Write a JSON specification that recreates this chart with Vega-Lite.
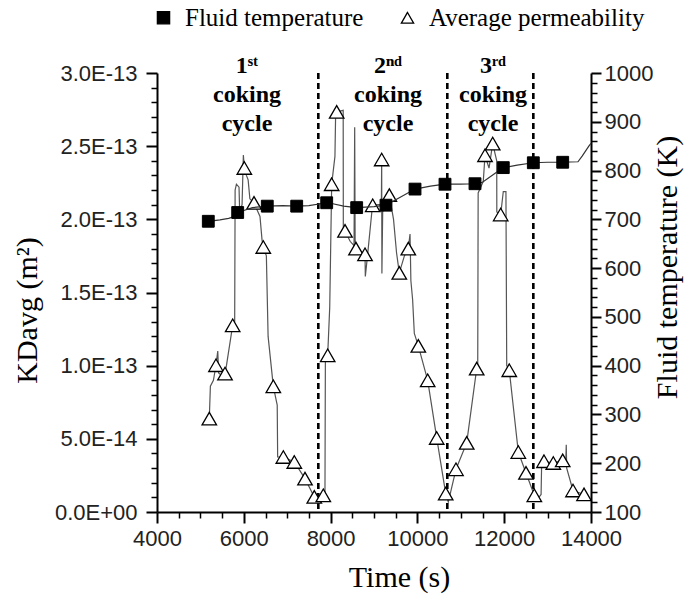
{
  "$schema": "https://vega.github.io/schema/vega-lite/v6.json",
  "width": 434,
  "height": 439,
  "autosize": "none",
  "padding": {"left": 157, "top": 73, "right": 99, "bottom": 89},
  "background": "white",
  "config": {
    "view": {"stroke": null},
    "axis": {
      "labelFont": "Liberation Sans", "labelFontSize": 22, "labelColor": "#222", "labelOverlap": false, "labelFlush": false,
      "titleFont": "Liberation Serif", "titleFontSize": 30, "titleFontWeight": "normal", "titleColor": "black",
      "domainColor": "black", "domainWidth": 2, "ticks": true, "tickColor": "black", "tickOpacity": 1, "grid": false
    },
    "legend": {
      "orient": "none", "legendX": -6, "legendY": -68, "direction": "horizontal",
      "labelFont": "Liberation Serif", "labelFontSize": 25, "labelColor": "black", "labelLimit": 500,
      "labelOffset": 9, "columnPadding": 31, "padding": 0, "symbolSize": 150,
      "symbolStrokeColor": "black", "symbolStrokeWidth": 1.3
    }
  },
  "datasets": {
    "permLine": [
      {"t":5205,"k":6.38e-14},{"t":5230,"k":8.6e-14},{"t":5300,"k":9.0e-14},{"t":5359,"k":1.003e-13},{"t":5400,"k":1.10e-13},{"t":5420,"k":9.5e-14},{"t":5500,"k":9.3e-14},{"t":5567,"k":9.46e-14},{"t":5600,"k":1.0e-13},{"t":5744,"k":1.276e-13},{"t":5790,"k":1.30e-13},{"t":5800,"k":2.20e-13},{"t":5830,"k":2.24e-13},{"t":5890,"k":2.22e-13},{"t":5905,"k":2.05e-13},{"t":5960,"k":2.10e-13},{"t":5990,"k":2.44e-13},{"t":6012,"k":2.351e-13},{"t":6060,"k":2.30e-13},{"t":6100,"k":2.27e-13},{"t":6140,"k":2.14e-13},{"t":6235,"k":2.112e-13},{"t":6373,"k":2.02e-13},{"t":6420,"k":1.86e-13},{"t":6449,"k":1.811e-13},{"t":6520,"k":1.75e-13},{"t":6560,"k":1.20e-13},{"t":6680,"k":8.59e-14},{"t":6770,"k":7.3e-14},{"t":6780,"k":3.76e-14},{"t":6911,"k":3.76e-14},{"t":7164,"k":3.42e-14},{"t":7410,"k":2.28e-14},{"t":7624,"k":1.03e-14},{"t":7700,"k":7.0e-15},{"t":7832,"k":1.14e-14},{"t":7870,"k":1.2e-14},{"t":7880,"k":1.07e-13},{"t":7933,"k":1.071e-13},{"t":7980,"k":1.40e-13},{"t":8025,"k":2.24e-13},{"t":8100,"k":2.43e-13},{"t":8115,"k":2.70e-13},{"t":8140,"k":2.734e-13},{"t":8290,"k":2.745e-13},{"t":8293,"k":1.95e-13},{"t":8332,"k":1.921e-13},{"t":8450,"k":1.85e-13},{"t":8540,"k":1.82e-13},{"t":8555,"k":2.63e-13},{"t":8565,"k":1.86e-13},{"t":8585,"k":1.80e-13},{"t":8700,"k":1.78e-13},{"t":8793,"k":1.761e-13},{"t":8800,"k":1.61e-13},{"t":8850,"k":1.75e-13},{"t":8950,"k":2.05e-13},{"t":8970,"k":2.096e-13},{"t":9100,"k":2.10e-13},{"t":9170,"k":2.10e-13},{"t":9177,"k":2.409e-13},{"t":9182,"k":1.63e-13},{"t":9200,"k":2.05e-13},{"t":9353,"k":2.165e-13},{"t":9450,"k":2.0e-13},{"t":9520,"k":1.77e-13},{"t":9583,"k":1.634e-13},{"t":9700,"k":1.75e-13},{"t":9790,"k":1.80e-13},{"t":9830,"k":1.90e-13},{"t":9850,"k":1.58e-13},{"t":9890,"k":1.45e-13},{"t":9929,"k":1.22e-13},{"t":10021,"k":1.135e-13},{"t":10237,"k":9.0e-14},{"t":10445,"k":5.06e-14},{"t":10652,"k":1.26e-14},{"t":10712,"k":6.8e-15},{"t":10889,"k":2.92e-14},{"t":11136,"k":4.72e-14},{"t":11366,"k":9.8e-14},{"t":11390,"k":1.0e-13},{"t":11400,"k":2.18e-13},{"t":11518,"k":2.26e-13},{"t":11558,"k":2.438e-13},{"t":11650,"k":2.35e-13},{"t":11735,"k":2.518e-13},{"t":11828,"k":2.40e-13},{"t":11830,"k":2.05e-13},{"t":11919,"k":2.033e-13},{"t":11979,"k":2.19e-13},{"t":12040,"k":2.19e-13},{"t":12058,"k":1.0e-13},{"t":12117,"k":9.69e-14},{"t":12325,"k":4.1e-14},{"t":12502,"k":2.67e-14},{"t":12694,"k":1.14e-14},{"t":12800,"k":1.0e-14},{"t":12850,"k":1.2e-14},{"t":12864,"k":3.5e-14},{"t":12917,"k":3.47e-14},{"t":13131,"k":3.35e-14},{"t":13348,"k":3.53e-14},{"t":13420,"k":3.6e-14},{"t":13430,"k":4.6e-14},{"t":13440,"k":3.0e-14},{"t":13585,"k":1.47e-14},{"t":13839,"k":1.2e-14}
    ],
    "permPts": [
      {"t":5205,"k":6.38e-14},{"t":5359,"k":1.003e-13},{"t":5567,"k":9.46e-14},{"t":5744,"k":1.276e-13},{"t":6012,"k":2.351e-13},{"t":6235,"k":2.112e-13},{"t":6449,"k":1.811e-13},{"t":6680,"k":8.59e-14},{"t":6911,"k":3.76e-14},{"t":7164,"k":3.42e-14},{"t":7410,"k":2.28e-14},{"t":7624,"k":1.03e-14},{"t":7832,"k":1.14e-14},{"t":7933,"k":1.071e-13},{"t":8025,"k":2.24e-13},{"t":8140,"k":2.734e-13},{"t":8332,"k":1.921e-13},{"t":8585,"k":1.80e-13},{"t":8793,"k":1.761e-13},{"t":8970,"k":2.096e-13},{"t":9177,"k":2.409e-13},{"t":9353,"k":2.165e-13},{"t":9583,"k":1.634e-13},{"t":9790,"k":1.80e-13},{"t":10021,"k":1.135e-13},{"t":10237,"k":9.0e-14},{"t":10445,"k":5.06e-14},{"t":10652,"k":1.26e-14},{"t":10889,"k":2.92e-14},{"t":11136,"k":4.72e-14},{"t":11366,"k":9.8e-14},{"t":11558,"k":2.438e-13},{"t":11735,"k":2.518e-13},{"t":11919,"k":2.033e-13},{"t":12117,"k":9.69e-14},{"t":12325,"k":4.1e-14},{"t":12502,"k":2.67e-14},{"t":12694,"k":1.14e-14},{"t":12917,"k":3.47e-14},{"t":13131,"k":3.35e-14},{"t":13348,"k":3.53e-14},{"t":13585,"k":1.47e-14},{"t":13839,"k":1.2e-14}
    ],
    "tempLine": [
      {"t":5182,"T":696},{"t":5450,"T":699},{"t":5650,"T":702},{"t":5800,"T":706},{"t":5859,"T":714},{"t":6000,"T":718},{"t":6200,"T":724},{"t":6541,"T":727},{"t":6900,"T":728},{"t":7219,"T":727},{"t":7500,"T":728},{"t":7910,"T":734},{"t":8000,"T":733},{"t":8300,"T":727},{"t":8601,"T":724},{"t":9000,"T":726},{"t":9276,"T":729},{"t":9500,"T":740},{"t":9945,"T":762},{"t":10300,"T":768},{"t":10636,"T":772},{"t":11000,"T":772},{"t":11327,"T":773},{"t":11500,"T":776},{"t":11800,"T":795},{"t":11979,"T":806},{"t":12300,"T":811},{"t":12671,"T":816},{"t":13000,"T":817},{"t":13348,"T":817},{"t":13700,"T":818},{"t":13800,"T":830},{"t":13950,"T":850},{"t":14000,"T":856}
    ],
    "tempPts": [
      {"t":5182,"T":696},{"t":5859,"T":714},{"t":6541,"T":727},{"t":7219,"T":727},{"t":7910,"T":734},{"t":8601,"T":724},{"t":9276,"T":729},{"t":9945,"T":762},{"t":10636,"T":772},{"t":11327,"T":773},{"t":11979,"T":806},{"t":12671,"T":816},{"t":13348,"T":817}
    ],
    "cycles": [{"t":7717},{"t":10689},{"t":12671}],
    "labels": [
      {"t":6074,"k":3.0e-13,"label":"1ˢᵗ\ncoking\ncycle"},
      {"t":9323,"k":3.0e-13,"label":"2ⁿᵈ\ncoking\ncycle"},
      {"t":11742,"k":3.0e-13,"label":"3ʳᵈ\ncoking\ncycle"}
    ]
  },
  "layer": [
    {
      "data": {"name": "cycles"},
      "mark": {"type": "rule", "color": "black", "strokeWidth": 2.6, "strokeDash": [6, 4]},
      "encoding": {
        "x": {
          "field": "t", "type": "quantitative",
          "scale": {"domain": [4000, 14000], "nice": false, "zero": false},
          "axis": {
            "orient": "bottom",
            "title": "Time (s)",
            "values": [4000, 6000, 8000, 10000, 12000, 14000],
            "format": "d",
            "ticks": true, "tickSize": 11, "tickWidth": 2, "labelPadding": 5,
            "titleX": 242, "titleY": 65, "titleBaseline": "middle", "titleAnchor": null
          }
        }
      }
    },
    {
      "encoding": {
        "x": {
          "field": "t", "type": "quantitative",
          "axis": {
            "orient": "bottom", "title": null, "labels": false, "domain": false,
            "values": [4500,5000,5500,6500,7000,7500,8500,9000,9500,10500,11000,11500,12500,13000,13500],
            "ticks": true, "tickSize": 6, "tickWidth": 1.5
          }
        }
      },
      "layer": [
        {
          "data": {"name": "permLine"},
          "mark": {"type": "line", "color": "#555", "strokeWidth": 1.2},
          "encoding": {
            "y": {
              "field": "k", "type": "quantitative",
              "scale": {"domain": [0, 3e-13], "nice": false, "zero": false},
              "axis": {
                "orient": "left",
                "title": "KDavg (m²)",
                "values": [0, 5e-14, 1e-13, 1.5e-13, 2e-13, 2.5e-13, 3e-13],
                "labelExpr": "datum.value == 0 ? '0.0E+00' : replace(format(datum.value, '.1e'), 'e', 'E')",
                "ticks": true, "tickSize": 11, "tickWidth": 2, "labelPadding": 9,
                "titleAngle": 270, "titleX": -130, "titleY": 237, "titleBaseline": "middle", "titleAnchor": null
              }
            }
          }
        },
        {
          "data": {"name": "permPts"},
          "transform": [{"calculate": "'Average permeability'", "as": "series"}],
          "mark": {"type": "point", "filled": true, "strokeWidth": 1.3, "opacity": 1, "size": 210},
          "encoding": {
            "y": {
              "field": "k", "type": "quantitative",
              "axis": {
                "orient": "left", "title": null, "labels": false, "domain": false,
                "values": [1e-14,2e-14,3e-14,4e-14,6e-14,7e-14,8e-14,9e-14,1.1e-13,1.2e-13,1.3e-13,1.4e-13,1.6e-13,1.7e-13,1.8e-13,1.9e-13,2.1e-13,2.2e-13,2.3e-13,2.4e-13,2.6e-13,2.7e-13,2.8e-13,2.9e-13],
                "ticks": true, "tickSize": 6, "tickWidth": 1.5
              }
            },
            "shape": {"field": "series", "type": "nominal", "scale": {"domain": ["Fluid temperature", "Average permeability"], "range": ["square", "triangle-up"]}, "legend": {"title": null}},
            "fill": {"field": "series", "type": "nominal", "scale": {"domain": ["Fluid temperature", "Average permeability"], "range": ["black", "white"]}, "legend": {"title": null}},
            "stroke": {"field": "series", "type": "nominal", "scale": {"domain": ["Fluid temperature", "Average permeability"], "range": ["black", "black"]}, "legend": {"title": null}}
          }
        },
        {
          "data": {"name": "labels"},
          "mark": {"type": "text", "font": "Liberation Serif", "fontWeight": "bold", "fontSize": 24, "align": "center", "baseline": "alphabetic", "lineBreak": "\n", "lineHeight": 29, "color": "black"},
          "encoding": {
            "y": {"field": "k", "type": "quantitative", "axis": null},
            "text": {"field": "label"}
          }
        }
      ],
      "resolve": {"axis": {"y": "independent"}}
    },
    {
      "encoding": {
        "x": {"field": "t", "type": "quantitative", "axis": null}
      },
      "layer": [
        {
          "data": {"name": "tempLine"},
          "mark": {"type": "line", "color": "#333", "strokeWidth": 1.2},
          "encoding": {
            "y": {
              "field": "T", "type": "quantitative",
              "scale": {"domain": [100, 1000], "nice": false, "zero": false},
              "axis": {
                "orient": "right",
                "title": "Fluid temperature (K)",
                "values": [100, 200, 300, 400, 500, 600, 700, 800, 900, 1000],
                "format": "d",
                "ticks": true, "tickSize": 10, "tickWidth": 2, "labelPadding": 3,
                "titleAngle": 270, "titleX": 76, "titleY": 194, "titleBaseline": "middle", "titleAnchor": null
              }
            }
          }
        },
        {
          "data": {"name": "tempPts"},
          "transform": [{"calculate": "'Fluid temperature'", "as": "series"}],
          "mark": {"type": "point", "filled": true, "strokeWidth": 1, "opacity": 1, "size": 140},
          "encoding": {
            "y": {
              "field": "T", "type": "quantitative",
              "axis": {
                "orient": "right", "title": null, "labels": false, "domain": false,
                "values": [120,140,160,180,220,240,260,280,320,340,360,380,420,440,460,480,520,540,560,580,620,640,660,680,720,740,760,780,820,840,860,880,920,940,960,980],
                "ticks": true, "tickSize": 6, "tickWidth": 1.5
              }
            },
            "shape": {"field": "series", "type": "nominal"},
            "fill": {"field": "series", "type": "nominal"},
            "stroke": {"field": "series", "type": "nominal"}
          }
        }
      ],
      "resolve": {"axis": {"y": "independent"}}
    }
  ],
  "resolve": {"scale": {"y": "independent"}, "axis": {"x": "independent"}}
}
